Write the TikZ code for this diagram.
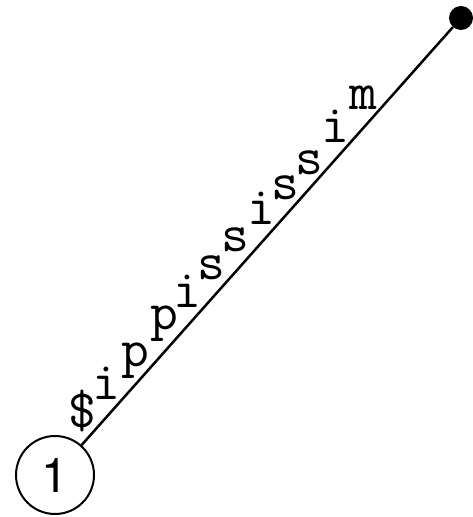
\documentclass[tikz,border=0pt]{standalone}
\usepackage{fontspec}
\newfontfamily\hvfont{TeX Gyre Heros}
\begin{document}
\begin{tikzpicture}[x=1pt,y=1pt,
  statenode/.style={draw,circle,line width=2pt,minimum size=78pt,inner sep=0pt,font=\hvfont\fontsize{48}{50}\selectfont},
  leafdot/.style={circle,fill=black,minimum size=24pt,inner sep=0pt},
  edgeline/.style={line width=2.5pt},
  chr/.style={anchor=base,inner sep=0pt,font=\ttfamily\fontsize{54}{56}\selectfont}]
\useasboundingbox (0,0) rectangle (473,517);
\node[statenode] (root) at (55,42) {1};
\node[leafdot] (leaf) at (461,499) {};
\draw[edgeline] (root) -- (leaf);
\node[chr] (c1) at (82,89) {\$};
\node[chr] (c2) at (106,117) {i};
\node[chr] (c3) at (135,150) {p};
\node[chr] (c4) at (164,187) {p};
\node[chr] (c5) at (187,209) {i};
\node[chr] (c6) at (211,237) {s};
\node[chr] (c7) at (235,265) {s};
\node[chr] (c8) at (261,292) {i};
\node[chr] (c9) at (285,317) {s};
\node[chr] (c10) at (309,342) {s};
\node[chr] (c11) at (335,374) {i};
\node[chr] (c12) at (363,407) {m};
\end{tikzpicture}
\end{document}
